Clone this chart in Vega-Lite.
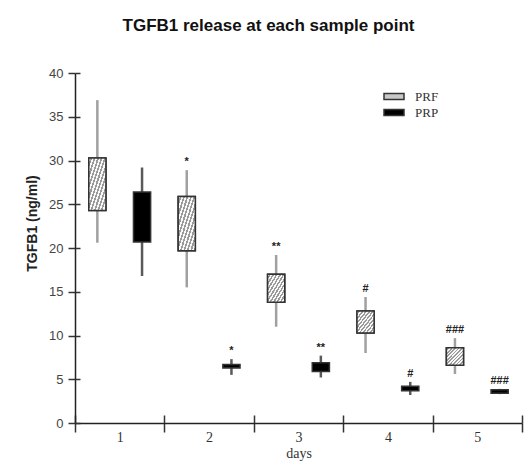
{
  "$schema": "https://vega.github.io/schema/vega-lite/v6.json",
  "autosize": "none",
  "width": 447,
  "height": 350,
  "padding": {"left": 75, "top": 73, "right": 7, "bottom": 43},
  "background": "white",
  "title": {
    "text": "TGFB1 release at each sample point",
    "font": "Liberation Sans",
    "fontSize": 17,
    "fontWeight": "bold",
    "color": "#111",
    "anchor": "middle",
    "dx": -30,
    "offset": 32
  },
  "config": {
    "view": {"stroke": null},
    "axis": {"grid": false}
  },
  "data": {
    "values": [
      {"day": "1", "group": "PRF", "low": 20.6, "q1": 24.3, "q3": 30.3, "high": 36.9, "sig": ""},
      {"day": "1", "group": "PRP", "low": 16.8, "q1": 20.7, "q3": 26.4, "high": 29.2, "sig": ""},
      {"day": "2", "group": "PRF", "low": 15.5, "q1": 19.7, "q3": 25.9, "high": 28.9, "sig": "*"},
      {"day": "2", "group": "PRP", "low": 5.5, "q1": 6.3, "q3": 6.7, "high": 7.3, "sig": "*"},
      {"day": "3", "group": "PRF", "low": 11.0, "q1": 13.8, "q3": 17.0, "high": 19.2, "sig": "**"},
      {"day": "3", "group": "PRP", "low": 5.2, "q1": 5.9, "q3": 6.9, "high": 7.7, "sig": "**"},
      {"day": "4", "group": "PRF", "low": 8.0, "q1": 10.3, "q3": 12.8, "high": 14.4, "sig": "#"},
      {"day": "4", "group": "PRP", "low": 3.2, "q1": 3.7, "q3": 4.2, "high": 4.7, "sig": "#"},
      {"day": "5", "group": "PRF", "low": 5.6, "q1": 6.6, "q3": 8.6, "high": 9.7, "sig": "###"},
      {"day": "5", "group": "PRP", "low": 3.3, "q1": 3.4, "q3": 3.8, "high": 3.9, "sig": "###"}
    ]
  },
  "layer": [
    {
      "mark": {"type": "rule", "strokeWidth": 2.5},
      "encoding": {
        "x": {
          "field": "day", "type": "ordinal",
          "scale": {"paddingInner": 0, "paddingOuter": 0},
          "axis": {
            "orient": "bottom",
            "title": "days",
            "titleFont": "Liberation Serif", "titleFontSize": 14, "titleFontWeight": "normal",
            "titleColor": "#333", "titlePadding": 2,
            "labelFont": "Liberation Serif", "labelFontSize": 14, "labelColor": "#333",
            "labelAngle": 0, "labelPadding": -2,
            "tickBand": "extent", "tickSize": 9, "tickWidth": 1.5, "tickColor": "#333",
            "domainColor": "#222", "domainWidth": 1.5
          }
        },
        "xOffset": {
          "field": "group", "type": "nominal",
          "scale": {"paddingInner": 0.616, "paddingOuter": 0.308}
        },
        "y": {
          "field": "low", "type": "quantitative",
          "scale": {"domain": [0, 40], "nice": false},
          "axis": {
            "orient": "left",
            "values": [0, 5, 10, 15, 20, 25, 30, 35, 40],
            "title": "TGFB1 (ng/ml)",
            "titleFont": "Liberation Sans", "titleFontSize": 14, "titleFontWeight": "bold",
            "titleColor": "#222", "titleX": -43, "titleY": 150,
            "titleAlign": "center", "titleBaseline": "middle",
            "labelFont": "Liberation Sans", "labelFontSize": 13, "labelColor": "#444",
            "labelPadding": 5,
            "tickSize": 7, "tickWidth": 1.5, "tickColor": "#333",
            "domainColor": "#222", "domainWidth": 1.5
          }
        },
        "y2": {"field": "high"},
        "stroke": {
          "condition": {"test": "datum.group == 'PRF'", "value": "#a0a0a0"},
          "value": "#5a5a5a"
        }
      }
    },
    {
      "mark": {"type": "bar", "stroke": "#333", "strokeWidth": 1.5},
      "encoding": {
        "x": {
          "field": "day", "type": "ordinal",
          "axis": {
            "orient": "top", "offset": -350,
            "title": null, "labels": false, "domain": false,
            "tickBand": "extent", "tickSize": 8, "tickWidth": 1.5, "tickColor": "#333"
          }
        },
        "xOffset": {"field": "group", "type": "nominal"},
        "y": {
          "field": "q1", "type": "quantitative",
          "axis": {
            "orient": "right", "offset": -447,
            "values": [0, 5, 10, 15, 20, 25, 30, 35, 40],
            "title": null, "labels": false, "domain": false,
            "tickSize": 5, "tickWidth": 1.5, "tickColor": "#333"
          }
        },
        "y2": {"field": "q3"},
        "fill": {
          "field": "group", "type": "nominal",
          "scale": {"domain": ["PRF", "PRP"], "range": ["#c8c8c8", "#000000"]},
          "legend": {
            "title": null,
            "orient": "none",
            "legendX": 308,
            "legendY": 17,
            "symbolType": "M-1,-0.3H1V0.3H-1Z",
            "symbolSize": 400,
            "symbolStrokeColor": "#333",
            "symbolStrokeWidth": 1.5,
            "clipHeight": 13,
            "rowPadding": 2,
            "labelFont": "Liberation Serif",
            "labelFontSize": 13,
            "labelColor": "#333",
            "labelOffset": 10,
            "encode": {
              "symbols": {
                "update": {
                  "stroke": {"value": "#333333"},
                  "fill": [
                    {
                      "test": "datum.value === 'PRF'",
                      "value": {
                        "gradient": "linear", "x1": 0, "y1": 0, "x2": 1, "y2": 1,
                        "stops": [
                          {"offset": 0, "color": "#f8f8f8"}, {"offset": 0.1, "color": "#f8f8f8"},
                          {"offset": 0.1, "color": "#9a9a9a"}, {"offset": 0.2, "color": "#9a9a9a"},
                          {"offset": 0.2, "color": "#f8f8f8"}, {"offset": 0.3, "color": "#f8f8f8"},
                          {"offset": 0.3, "color": "#9a9a9a"}, {"offset": 0.4, "color": "#9a9a9a"},
                          {"offset": 0.4, "color": "#f8f8f8"}, {"offset": 0.5, "color": "#f8f8f8"},
                          {"offset": 0.5, "color": "#9a9a9a"}, {"offset": 0.6, "color": "#9a9a9a"},
                          {"offset": 0.6, "color": "#f8f8f8"}, {"offset": 0.7, "color": "#f8f8f8"},
                          {"offset": 0.7, "color": "#9a9a9a"}, {"offset": 0.8, "color": "#9a9a9a"},
                          {"offset": 0.8, "color": "#f8f8f8"}, {"offset": 0.9, "color": "#f8f8f8"},
                          {"offset": 0.9, "color": "#9a9a9a"}, {"offset": 1, "color": "#9a9a9a"}
                        ]
                      }
                    },
                    {"value": "#000000"}
                  ]
                }
              }
            }
          }
        }
      }
    },
    {
      "transform": [{"filter": "datum.group == 'PRF'"}],
      "mark": {
        "type": "bar", "stroke": "#333", "strokeWidth": 1.5,
        "fill": {
          "gradient": "linear", "x1": 0, "y1": 0, "x2": 1, "y2": 1,
          "stops": [
            {"offset": 0, "color": "#f8f8f8"}, {"offset": 0.05, "color": "#f8f8f8"},
            {"offset": 0.05, "color": "#9a9a9a"}, {"offset": 0.1, "color": "#9a9a9a"},
            {"offset": 0.1, "color": "#f8f8f8"}, {"offset": 0.15, "color": "#f8f8f8"},
            {"offset": 0.15, "color": "#9a9a9a"}, {"offset": 0.2, "color": "#9a9a9a"},
            {"offset": 0.2, "color": "#f8f8f8"}, {"offset": 0.25, "color": "#f8f8f8"},
            {"offset": 0.25, "color": "#9a9a9a"}, {"offset": 0.3, "color": "#9a9a9a"},
            {"offset": 0.3, "color": "#f8f8f8"}, {"offset": 0.35, "color": "#f8f8f8"},
            {"offset": 0.35, "color": "#9a9a9a"}, {"offset": 0.4, "color": "#9a9a9a"},
            {"offset": 0.4, "color": "#f8f8f8"}, {"offset": 0.45, "color": "#f8f8f8"},
            {"offset": 0.45, "color": "#9a9a9a"}, {"offset": 0.5, "color": "#9a9a9a"},
            {"offset": 0.5, "color": "#f8f8f8"}, {"offset": 0.55, "color": "#f8f8f8"},
            {"offset": 0.55, "color": "#9a9a9a"}, {"offset": 0.6, "color": "#9a9a9a"},
            {"offset": 0.6, "color": "#f8f8f8"}, {"offset": 0.65, "color": "#f8f8f8"},
            {"offset": 0.65, "color": "#9a9a9a"}, {"offset": 0.7, "color": "#9a9a9a"},
            {"offset": 0.7, "color": "#f8f8f8"}, {"offset": 0.75, "color": "#f8f8f8"},
            {"offset": 0.75, "color": "#9a9a9a"}, {"offset": 0.8, "color": "#9a9a9a"},
            {"offset": 0.8, "color": "#f8f8f8"}, {"offset": 0.85, "color": "#f8f8f8"},
            {"offset": 0.85, "color": "#9a9a9a"}, {"offset": 0.9, "color": "#9a9a9a"},
            {"offset": 0.9, "color": "#f8f8f8"}, {"offset": 0.95, "color": "#f8f8f8"},
            {"offset": 0.95, "color": "#9a9a9a"}, {"offset": 1, "color": "#9a9a9a"}
          ]
        }
      },
      "encoding": {
        "x": {"field": "day", "type": "ordinal", "axis": null},
        "xOffset": {"field": "group", "type": "nominal"},
        "y": {"field": "q1", "type": "quantitative", "axis": null},
        "y2": {"field": "q3"}
      }
    },
    {
      "transform": [{"filter": "datum.sig != ''"}],
      "mark": {
        "type": "text", "font": "Liberation Sans", "fontSize": 11, "fontWeight": "bold",
        "baseline": "bottom", "dy": -3, "color": "#222"
      },
      "encoding": {
        "x": {"field": "day", "type": "ordinal", "axis": null},
        "xOffset": {"field": "group", "type": "nominal"},
        "y": {"field": "high", "type": "quantitative", "axis": null},
        "text": {"field": "sig"}
      }
    }
  ],
  "resolve": {"axis": {"x": "independent", "y": "independent"}}
}
